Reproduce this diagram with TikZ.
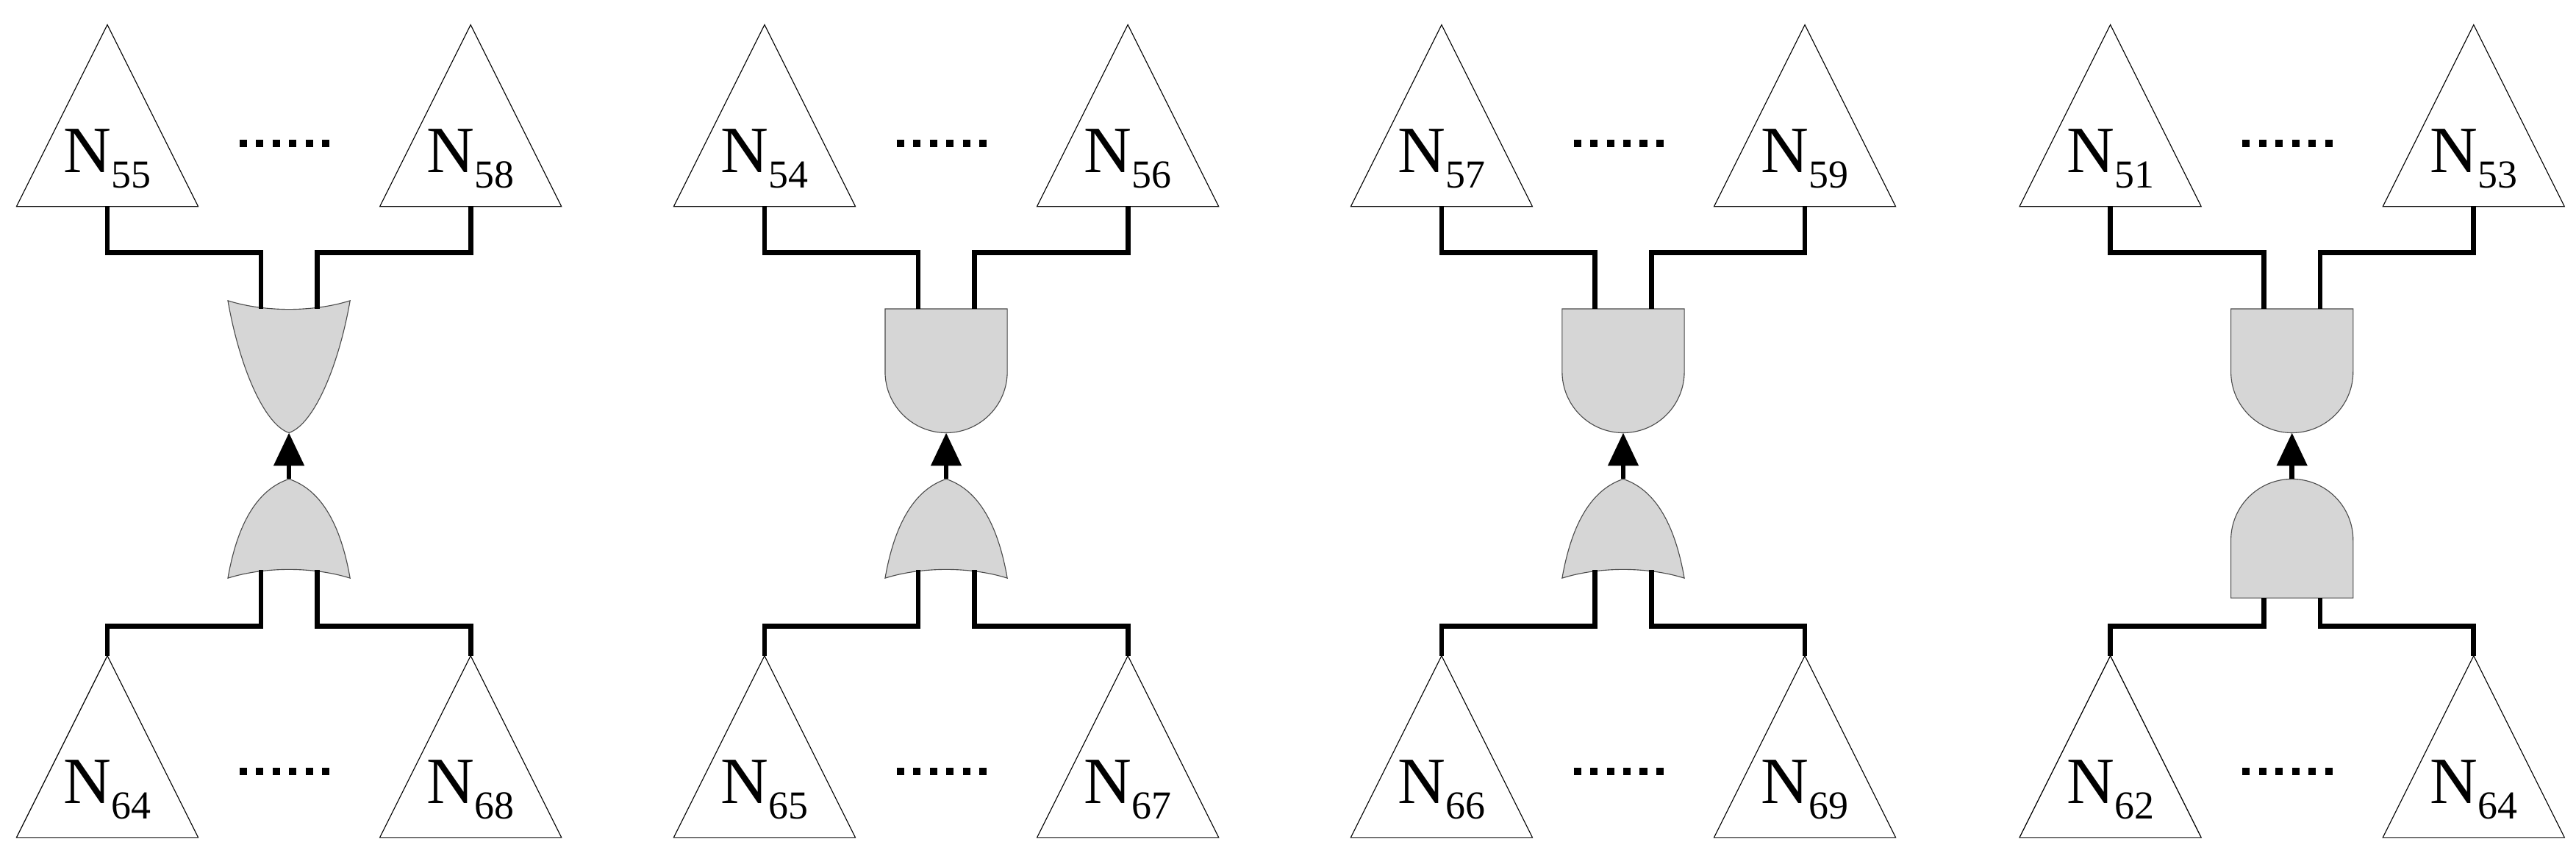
\documentclass[tikz,border=0pt]{standalone}
\usepackage{fontspec}
\setmainfont{Liberation Serif}
\usetikzlibrary{arrows.meta}
\tikzset{
  tri/.style={draw=black,line width=0.5pt,fill=white},
  gate/.style={draw=black!70,line width=0.5pt,fill=black!16},
  wire/.style={line width=3pt,line cap=butt,line join=miter},
  dots/.style={line width=4.5pt,dash pattern=on 4.5pt off 5.5pt},
  lab/.style={font=\fontsize{40}{44}\selectfont,inner sep=0pt},
  arr/.style={line width=3pt,-{Triangle[length=20pt,width=18pt]}}
}
\newcommand\orTop{%
  \path[gate] (-37,182) .. controls (-15,189) and (15,189) .. (37,182)
     .. controls (30,222) and (15,257) .. (0,262)
     .. controls (-15,257) and (-30,222) .. cycle;
  \coordinate (tl) at (-17,187); \coordinate (tr) at (17,187); \coordinate (to) at (0,262);}
\newcommand\andTop{%
  \path[gate] (-37,187) -- (37,187) -- (37,225) arc[start angle=0,end angle=180,radius=37] -- cycle;
  \coordinate (tl) at (-17,187); \coordinate (tr) at (17,187); \coordinate (to) at (0,262);}
\newcommand\orBot{%
  \path[gate] (-37,350) .. controls (-15,343) and (15,343) .. (37,350)
     .. controls (30,310) and (15,295) .. (0,290)
     .. controls (-15,295) and (-30,310) .. cycle;
  \coordinate (bl) at (-17,345); \coordinate (br) at (17,345); \coordinate (bo) at (0,290);}
\newcommand\andBot{%
  \path[gate] (-37,362) -- (37,362) -- (37,327) arc[start angle=0,end angle=-180,radius=37] -- cycle;
  \coordinate (bl) at (-17,362); \coordinate (br) at (17,362); \coordinate (bo) at (0,290);}
\newcommand\panel[7]{%
\begin{scope}[xshift=#1pt]
  \path[tri] (-110,15) -- (-55,125) -- (-165,125) -- cycle;
  \path[tri] (110,15) -- (165,125) -- (55,125) -- cycle;
  \node[lab] (ta) at (-110,96) {N\raisebox{-0.5ex}{\fontsize{24}{26}\selectfont #4}};
  \node[lab] (tb) at (110,96) {N\raisebox{-0.5ex}{\fontsize{24}{26}\selectfont #5}};
  \coordinate (tap) at (-110,125); \coordinate (tbp) at (110,125);
  \path[tri] (-110,397) -- (-55,507) -- (-165,507) -- cycle;
  \path[tri] (110,397) -- (165,507) -- (55,507) -- cycle;
  \node[lab] (ba) at (-110,478) {N\raisebox{-0.5ex}{\fontsize{24}{26}\selectfont #6}};
  \node[lab] (bb) at (110,478) {N\raisebox{-0.5ex}{\fontsize{24}{26}\selectfont #7}};
  \coordinate (bap) at (-110,397); \coordinate (bbp) at (110,397);
  \draw[dots] (-30,87) -- (30,87);
  \draw[dots] (-30,467) -- (30,467);
  #2 #3
  \draw[wire] (tap) |- (-17,153) -- (tl);
  \draw[wire] (tbp) |- (17,153) -- (tr);
  \draw[wire] (bap) |- (-17,379) -- (bl);
  \draw[wire] (bbp) |- (17,379) -- (br);
  \draw[arr] (bo) -- (to);
\end{scope}}
\begin{document}
\begin{tikzpicture}[x=1pt,y=-1pt]
\useasboundingbox (0,0) rectangle (1560,517.8);
\panel{175}{\orTop}{\orBot}{55}{58}{64}{68}
\panel{573}{\andTop}{\orBot}{54}{56}{65}{67}
\panel{983}{\andTop}{\orBot}{57}{59}{66}{69}
\panel{1388}{\andTop}{\andBot}{51}{53}{62}{64}
\end{tikzpicture}
\end{document}
